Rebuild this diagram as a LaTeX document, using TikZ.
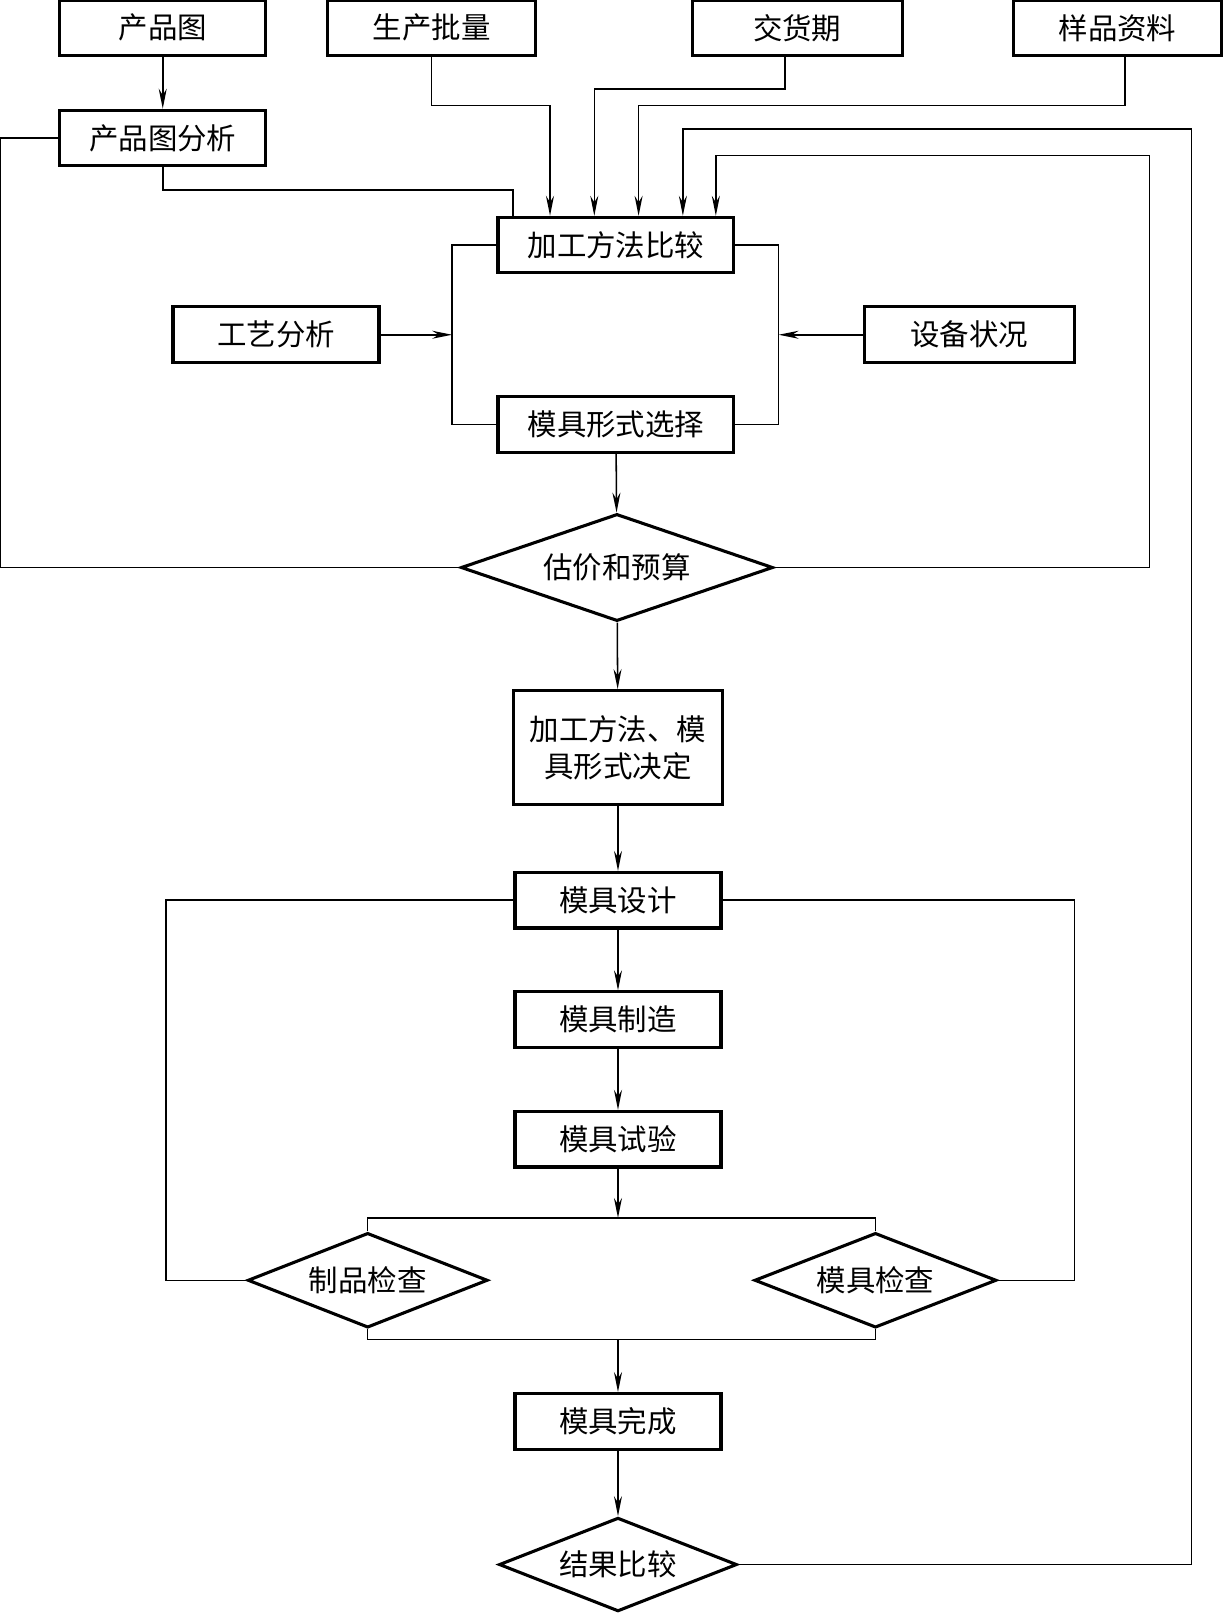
\documentclass[tikz,border=0pt]{standalone}
\usepackage{fontspec}
\newfontfamily\cjk{Noto Sans CJK SC}
\usetikzlibrary{calc,arrows.meta,shapes.geometric}

\begin{document}
\begin{tikzpicture}[x=0.0258cm,y=-0.0258cm,line width=1.1pt,>={Stealth[length=5mm,width=2mm]},
  proc/.style={draw,line width=2.2pt,inner sep=0pt,minimum width=#1*0.0258cm,minimum height=54*0.0258cm,font=\cjk\fontsize{21}{27}\selectfont},
  proc/.default=200,
  dec/.style n args={3}{draw,diamond,line width=2.2pt,inner sep=0pt,shape aspect=#3,minimum width=#1*0.0258cm,minimum height=#2*0.0258cm,font=\cjk\fontsize{21}{27}\selectfont}]
  \useasboundingbox (0,0) rectangle (1188,1568);
  % entradas
  \node[proc] (cpt) at (158,27) {产品图};
  \node[proc=202] (scpl) at (419,27) {生产批量};
  \node[proc=204] (jhq) at (774,27) {交货期};
  \node[proc=202] (ypzl) at (1085,27) {样品资料};
  \node[proc] (cpfx) at (158,134) {产品图分析};
  % seleccion
  \node[proc=229] (jgbj) at (598,238) {加工方法比较};
  \node[proc] (gyfx) at (268,325) {工艺分析};
  \node[proc=204] (sbzk) at (941,325) {设备状况};
  \node[proc=229] (mjxs) at (598,412) {模具形式选择};
  \node[dec={303}{104}{2.9}] (gjys) at (599,551) {估价和预算};
  \node[proc=203,minimum height=111*0.0258cm,align=center] (jd) at (600,726) {加工方法、模\\具形式决定};
  % molde
  \node[proc] (mjsj) at (600,874) {模具设计};
  \node[proc] (mjzz) at (600,990) {模具制造};
  \node[proc] (mjsy) at (600,1106) {模具试验};
  \node[dec={233}{92}{2.53}] (zpjc) at (357,1243) {制品检查};
  \node[dec={235}{92}{2.55}] (mjjc) at (850,1243) {模具检查};
  \node[proc] (mjwc) at (600,1380) {模具完成};
  \node[dec={231}{91}{2.54}] (jgbj2) at (600,1519) {结果比较};

  % entradas -> comparacion
  \draw[->] (cpt) -- (cpfx);
  \draw (cpfx.south) -- ++(0,22) -| ($(jgbj.north west)+(16,0)$);
  \draw[->] (scpl.south) -- ++(0,47) -| ($(jgbj.north west)+(52,0)$);
  \draw[->] ($(jhq.south)+(-12,0)$) -- ++(0,31) -| ($(jgbj.north west)+(95,0)$);
  \draw[->] ($(ypzl.south)+(7,0)$) -- ++(0,47) -| ($(jgbj.north west)+(138,0)$);
  % corchetes
  \coordinate (izq) at ($(jgbj.west)+(-43,0)$);
  \coordinate (der) at ($(jgbj.east)+(42,0)$);
  \draw (jgbj.west) -- (izq) |- (mjxs.west);
  \draw (jgbj.east) -- (der) |- (mjxs.east);
  \draw[->] (gyfx.east) -- (gyfx.east -| izq);
  \draw[->] (sbzk.west) -- (sbzk.west -| der);
  % lazos
  \coordinate (lazoA) at (1116,151);
  \coordinate (lazoB) at (1157,125);
  \draw (gjys.west) -| ($(cpfx.west)+(-56,0)$) -- (cpfx.west);
  \draw[->] (gjys.east) -| (lazoA) -| ($(jgbj.north west)+(213,0)$);
  \draw[->] (jgbj2.east) -| (lazoB) -| ($(jgbj.north west)+(181,0)$);
  % cadena principal
  \draw[->] (mjxs) -- (gjys);
  \draw[->] (gjys) -- (jd);
  \draw[->] (jd) -- (mjsj);
  \draw[->] (mjsj) -- (mjzz);
  \draw[->] (mjzz) -- (mjsy);
  \coordinate (rep) at ($(zpjc.north)+(0,-13)$);
  \draw[->] (mjsy.south) -- (mjsy.south |- rep);
  \draw (zpjc.north) -- (rep) -| (mjjc.north);
  \coordinate (jun) at ($(zpjc.south)+(0,10)$);
  \draw (zpjc.south) -- (jun) -| (mjjc.south);
  \draw[->] (mjwc.north |- jun) -- (mjwc.north);
  \draw (mjsj.west) -| ($(zpjc.west)+(-78,0)$) -- (zpjc.west);
  \draw (mjsj.east) -| ($(mjjc.east)+(74,0)$) -- (mjjc.east);
  \draw[->] (mjwc) -- (jgbj2);
\end{tikzpicture}
\end{document}
